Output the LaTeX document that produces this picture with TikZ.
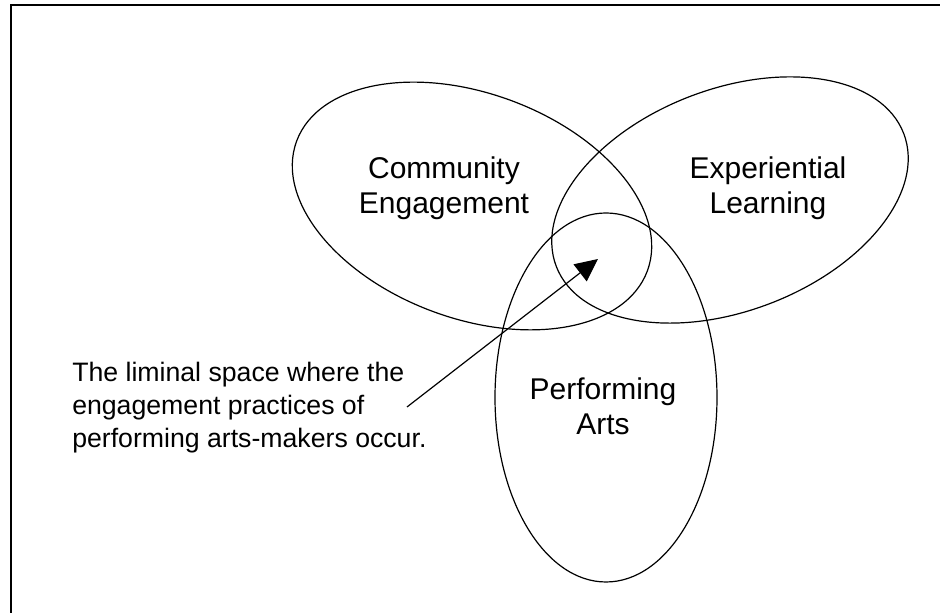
\documentclass[tikz,border=0pt]{standalone}
\usepackage{fontspec}
\setmainfont{Liberation Sans}
\usetikzlibrary{arrows.meta}
\begin{document}
\begin{tikzpicture}[x=0.75pt, y=0.75pt,
    ring/.style={line width=0.9pt},
    setlabel/.style={align=center, inner sep=0pt, font=\fontsize{22.5}{26.25}\selectfont},
    remark/.style={align=left, inner sep=0pt, font=\fontsize{20}{25}\selectfont}]
    \useasboundingbox (0,0) rectangle (940,613);
    \draw[line width=1.5pt] (11,0)--(11,608)--(940,608);

    \draw[ring, rotate around={-20.3:(472,407)}] (472,407) ellipse [x radius=187, y radius=112.5];
    \draw[ring, rotate around={20.9:(730,413)}] (730,413) ellipse [x radius=186, y radius=111];
    \draw[ring] (606,215.5) ellipse [x radius=111, y radius=184.5];

    \node[setlabel] (community) at (444,425) {Community\\Engagement};
    \node[setlabel] (experiential) at (768,425) {Experiential\\Learning};
    \node[setlabel] (performing) at (603,206.5) {Performing\\Arts};
    \node[remark, anchor=west] (liminal) at (72,205.5) {The liminal space where the\\engagement practices of\\performing arts-makers occur.};

    \coordinate (tail) at (407,206);
    \coordinate (tip) at (598,354);
    \draw[line width=0.9pt, -{Triangle[length=17pt, width=16pt]}] (tail) -- (tip);
\end{tikzpicture}
\end{document}
